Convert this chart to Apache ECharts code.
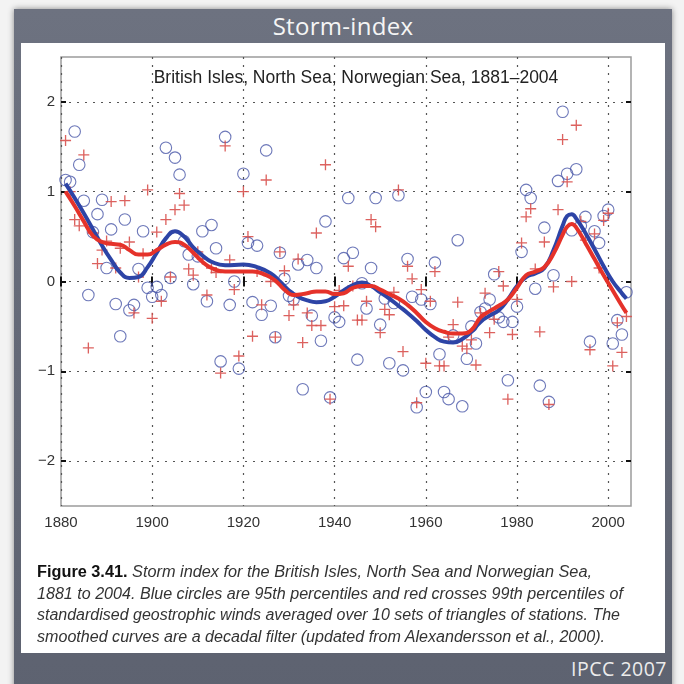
<!DOCTYPE html>
<html>
<head>
<meta charset="utf-8">
<script src="https://cdn.jsdelivr.net/npm/echarts@6/dist/echarts.min.js"></script>
<style>
  html, body { margin:0; padding:0; }
  body { width:684px; height:684px; position:relative; overflow:hidden; background:#f3f3f3; }
  #frame { position:absolute; left:14px; top:9px; width:658px; height:700px;
           background:linear-gradient(180deg,#6d7280 0%,#646977 50%,#5d6270 100%);
           box-shadow:0 0 6px rgba(0,0,0,0.45); }
  #panel { position:absolute; left:21px; top:43px; width:644px; height:610px; background:#ffffff; }
  #title { position:absolute; left:14px; width:658px; top:10px; text-align:center;
           color:#f5f5f5; font-family:'Open Sans','DejaVu Sans',sans-serif; font-size:24px; line-height:32px; letter-spacing:0.3px; }
  #ipcc { position:absolute; right:17px; top:654px; color:#ececec;
          font-family:'Open Sans','DejaVu Sans',sans-serif; font-size:19.5px; line-height:30px; letter-spacing:0.5px; }
  #chart { position:absolute; left:0; top:0; width:684px; height:684px; }
  #cap { position:absolute; left:37px; top:561px; color:#333; font-family:'Liberation Sans',Arial,sans-serif;
         font-size:16px; line-height:21.7px; white-space:nowrap; }
  #cap .ln { display:block; transform-origin:0 50%; width:max-content; }
  #cap b { font-style:normal; color:#111; }
  #cap i { font-style:italic; }
</style>
</head>
<body>
<div id="frame"></div>
<div id="panel"></div>
<div id="title">Storm-index</div>
<div id="ipcc">IPCC 2007</div>
<div id="chart"></div>
<div id="cap">
  <span class="ln" data-w="555"><b>Figure 3.41.</b> <i>Storm index for the British Isles, North Sea and Norwegian Sea,</i></span>
  <span class="ln" data-w="586"><i>1881 to 2004. Blue circles are 95th percentiles and red crosses 99th percentiles of</i></span>
  <span class="ln" data-w="583"><i>standardised geostrophic winds averaged over 10 sets of triangles of stations. The</i></span>
  <span class="ln" data-w="568"><i>smoothed curves are a decadal filter (updated from Alexandersson et al., 2000).</i></span>
</div>
<script>
// ---- data ----
const firstYear = 1881;
// 95th percentiles (blue circles), 1881..2004
const blue95 = [
  1.13, 1.11, 1.67, 1.30, 0.90, -0.15, 0.55, 0.75, 0.91, 0.15,
  0.58, -0.25, -0.61, 0.69, -0.32, -0.26, 0.14, 0.56, -0.07, -0.17,
  -0.06, -0.15, 1.49, 0.04, 1.38, 1.19, 0.45, 0.30, -0.03, 0.28,
  0.56, -0.22, 0.63, 0.37, -0.89, 1.61, -0.26, 0.00, -0.97, 1.20,
  0.43, -0.23, 0.40, -0.37, 1.46, -0.27, -0.62, 0.32, 0.03, -0.16,
  -0.20, 0.19, -1.20, 0.24, -0.38, 0.15, -0.66, 0.67, -1.29, -0.40,
  -0.45, 0.26, 0.93, 0.32, -0.87, -0.02, -0.30, 0.15, 0.93, -0.48,
  -0.19, -0.91, -0.24, 0.96, -0.99, 0.25, -0.17, -1.40, -0.20, -1.23,
  -0.25, 0.21, -0.81, -1.23, -1.31, -0.60, 0.46, -1.39, -0.86, -0.50,
  -0.69, -0.34, -0.30, -0.20, 0.08, -0.40, -0.45, -1.10, -0.45, -0.28,
  0.33, 1.02, 0.93, -0.08, -1.16, 0.60, -1.34, 0.07, 1.12, 1.89,
  1.20, 0.57, 1.25, 0.62, 0.72, -0.67, 0.56, 0.43, 0.73, 0.80,
  -0.69, -0.43, -0.59, -0.12
];
// 99th percentiles (red crosses), 1881..2004
const red99 = [
  1.57, 1.00, 0.69, 0.62, 1.41, -0.74, 0.54, 0.20, 0.35, 0.45,
  0.89, 0.15, 0.37, 0.90, 0.44, -0.35, 0.05, 0.31, 1.02, -0.41,
  0.55, -0.22, 0.69, 0.05, 0.80, 0.98, 0.85, 0.14, 0.07, 0.33,
  0.25, -0.15, 0.15, 0.10, -1.02, 1.51, 0.24, -0.09, -0.83, 1.00,
  0.50, -0.61, 0.11, -0.26, 1.13, 0.00, -0.62, 0.33, 0.12, -0.38,
  -0.26, 0.25, -0.68, -0.35, -0.49, 0.54, -0.49, 1.30, -1.31, -0.28,
  -0.10, -0.27, 0.17, -0.05, -0.43, -0.43, -0.22, 0.69, 0.61, -0.57,
  -0.31, -0.37, -0.12, 1.02, -0.78, 0.17, 0.03, -1.35, -0.09, -0.91,
  -0.22, 0.11, -0.94, -0.94, -0.62, -0.48, -0.23, -0.72, -0.75, -0.65,
  -0.93, -0.35, -0.13, -0.57, -0.42, 0.11, -0.05, -1.31, -0.59, -0.20,
  0.43, 0.72, 0.81, 0.14, -0.56, 0.44, -1.37, -0.06, 0.80, 1.58,
  1.11, 0.00, 1.74, 0.67, 0.46, -0.76, 0.53, 0.15, 0.68, 0.76,
  -0.94, -0.46, -0.79, -0.39
];
// decadal-filter curves
const blueCurveYears = [1881,1883,1885,1887,1889,1891,1893,1895,1897,1899,1901,1903,1905,1907,1909,1911,1913,1916,1920,1923,1926,1928,1930,1932,1934,1936,1938,1940,1942,1944,1946,1948,1950,1952,1954,1956,1958,1960,1962,1964,1966,1968,1970,1972,1974,1976,1978,1980,1982,1984,1986,1988,1990,1991,1992,1993,1995,1997,1999,2001,2003,2004];
const blueCurveVals  = [1.09,0.93,0.76,0.58,0.40,0.24,0.10,0.04,0.05,0.16,0.32,0.48,0.56,0.50,0.38,0.29,0.22,0.18,0.19,0.16,0.09,0.00,-0.10,-0.17,-0.21,-0.23,-0.22,-0.17,-0.10,-0.04,-0.01,-0.05,-0.12,-0.19,-0.27,-0.35,-0.44,-0.54,-0.62,-0.67,-0.68,-0.64,-0.56,-0.45,-0.38,-0.32,-0.20,-0.05,0.05,0.09,0.15,0.35,0.62,0.73,0.75,0.70,0.54,0.36,0.17,0.00,-0.13,-0.19];
const redCurveYears  = [1881,1883,1885,1887,1889,1891,1893,1895,1897,1899,1901,1903,1905,1907,1909,1911,1913,1916,1919,1922,1925,1927,1929,1931,1934,1936,1938,1940,1942,1944,1946,1948,1950,1952,1954,1956,1958,1960,1962,1964,1966,1968,1970,1972,1974,1976,1978,1980,1982,1984,1986,1988,1990,1991,1992,1993,1995,1997,1999,2001,2003,2004];
const redCurveVals   = [1.00,0.84,0.67,0.51,0.44,0.42,0.41,0.35,0.30,0.30,0.35,0.41,0.44,0.41,0.32,0.22,0.15,0.11,0.11,0.11,0.07,0.01,-0.09,-0.15,-0.13,-0.11,-0.11,-0.14,-0.13,-0.07,-0.05,-0.05,-0.09,-0.14,-0.19,-0.26,-0.35,-0.45,-0.52,-0.56,-0.58,-0.58,-0.54,-0.40,-0.33,-0.27,-0.20,-0.07,0.07,0.11,0.16,0.31,0.52,0.61,0.64,0.60,0.43,0.25,0.07,-0.10,-0.27,-0.35];
const xTickYears = [1880, 1900, 1920, 1940, 1960, 1980, 2000];
const yTickVals  = [-2, -1, 0, 1, 2];
const subtitle = 'British Isles, North Sea, Norwegian Sea, 1881\u20132004';

// ---- chart ----
const chart = echarts.init(document.getElementById('chart'), null, { renderer: 'canvas' });
const pair = (arr) => arr.map((v, i) => [firstYear + i, v]);
const zip = (xs, ys) => xs.map((x, i) => [x, ys[i]]);
const tickStyle = { show: true, inside: true, length: 5, lineStyle: { color: '#111', width: 2 } };
const dotted = { show: true, lineStyle: { color: '#555', width: 1.2, type: [2, 6] } };
const crossPath = 'path://M4.4,0H5.6V4.4H10V5.6H5.6V10H4.4V5.6H0V4.4H4.4Z';

chart.setOption({
  animation: false,
  backgroundColor: 'transparent',
  grid: { left: 61, top: 57, width: 570, height: 449, show: true, borderColor: '#9c9c9c', borderWidth: 1.5, backgroundColor: 'transparent' },
  xAxis: [
    { type: 'value', min: 1880, max: 2005, interval: 20, position: 'bottom',
      axisLine: { show: false },
      axisTick: Object.assign({ customValues: xTickYears }, tickStyle),
      axisLabel: { customValues: xTickYears, formatter: v => (v % 20 === 0 ? String(v) : ''),
                   fontSize: 15, color: '#333', margin: 9, fontFamily: 'Liberation Sans' },
      splitLine: dotted },
    { type: 'value', min: 1880, max: 2005, interval: 20, position: 'top',
      axisLine: { show: false },
      axisTick: Object.assign({ customValues: xTickYears }, tickStyle),
      axisLabel: { show: false }, splitLine: { show: false } }
  ],
  yAxis: [
    { type: 'value', min: -2.5, max: 2.5, position: 'left',
      axisLine: { show: false },
      axisTick: Object.assign({ customValues: yTickVals }, tickStyle),
      axisLabel: { customValues: yTickVals,
                   formatter: v => (Number.isInteger(v) ? (v < 0 ? '\u2212' + Math.abs(v) : String(v)) : ''),
                   fontSize: 15, color: '#333', margin: 6, fontFamily: 'Liberation Sans' },
      splitLine: dotted },
    { type: 'value', min: -2.5, max: 2.5, position: 'right',
      axisLine: { show: false },
      axisTick: Object.assign({ customValues: yTickVals }, tickStyle),
      axisLabel: { show: false }, splitLine: { show: false } }
  ],
  graphic: [
    { type: 'text', x: 356, y: 78, z: 50,
      style: { text: subtitle, fontSize: 17.5, fill: '#222', align: 'center', verticalAlign: 'middle', fontFamily: 'Liberation Sans' } }
  ],
  series: [
    { name: '95th percentiles', type: 'scatter', data: pair(blue95), symbol: 'circle', symbolSize: 11.5, z: 3,
      itemStyle: { color: 'rgba(0,0,0,0)', borderColor: '#4856a8', borderWidth: 1.1 } },
    { name: '99th percentiles', type: 'scatter', data: pair(red99), symbol: crossPath, symbolSize: 11, z: 3,
      itemStyle: { color: '#d8504c', opacity: 0.9 } },
    { name: '95th filtered', type: 'line', data: zip(blueCurveYears, blueCurveVals), smooth: true, showSymbol: false, z: 5,
      lineStyle: { color: '#2d44a6', width: 4 } },
    { name: '99th filtered', type: 'line', data: zip(redCurveYears, redCurveVals), smooth: true, showSymbol: false, z: 6,
      lineStyle: { color: '#e5322a', width: 4 } }
  ]
});

// fit caption lines to the widths seen in the figure
document.querySelectorAll('#cap .ln').forEach(el => {
  const target = +el.dataset.w;
  const w = el.getBoundingClientRect().width;
  if (w > 0) el.style.transform = 'scaleX(' + (target / w).toFixed(4) + ')';
});
</script>
</body>
</html>
